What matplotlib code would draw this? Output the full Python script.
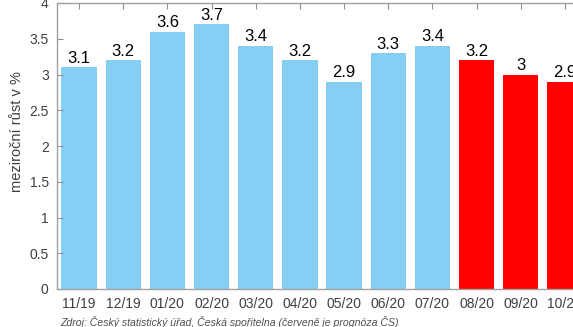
import matplotlib
matplotlib.use("Agg")
import matplotlib.pyplot as plt

plt.rcParams['font.family'] = ['Liberation Sans', 'DejaVu Sans']

months = ["11/19", "12/19", "01/20", "02/20", "03/20", "04/20", "05/20",
          "06/20", "07/20", "08/20", "09/20", "10/20"]
inflation = [3.1, 3.2, 3.6, 3.7, 3.4, 3.2, 2.9, 3.3, 3.4, 3.2, 3.0, 2.9]
is_forecast = [False] * 9 + [True] * 3
value_labels = ["3.1", "3.2", "3.6", "3.7", "3.4", "3.2", "2.9",
                "3.3", "3.4", "3.2", "3", "2.9"]
yticks = [0, 0.5, 1, 1.5, 2, 2.5, 3, 3.5, 4]
ytick_labels = ["0", "0.5", "1", "1.5", "2", "2.5", "3", "3.5", "4"]

BLUE = "#84CFF3"
RED = "#FF0000"
GRAY = "#404040"

fig = plt.figure(figsize=(5.73, 3.27), dpi=100)
ax = fig.add_axes([57 / 573, 1 - 289 / 327, 530 / 573, 286 / 327])

x = list(range(1, len(months) + 1))
colors = [RED if f else BLUE for f in is_forecast]
ax.bar(x, inflation, width=0.8, color=colors, edgecolor="none")

for xi, v, lab in zip(x, inflation, value_labels):
    ax.text(xi, v + 0.02, lab, ha="center", va="bottom", fontsize=12, color="black")

ax.set_xlim(0.5, 12.5)
ax.set_ylim(0, 4)
ax.set_xticks(x)
ax.set_xticklabels(months)
ax.set_yticks(yticks)
ax.set_yticklabels(ytick_labels)

ax.tick_params(axis="both", direction="in", colors="#909090", labelcolor=GRAY,
               labelsize=10, length=4, width=0.8)
ax.tick_params(axis="x", top=True, bottom=False, pad=6)
ax.tick_params(axis="y", right=False, pad=6)

for side in ["left", "bottom", "top"]:
    ax.spines[side].set_color("#A0A0A0")
    ax.spines[side].set_linewidth(1.0)
ax.spines["right"].set_visible(False)

ax.set_ylabel("meziroční růst v %", fontsize=10.5, color=GRAY)
ax.yaxis.set_label_coords(-0.062, 0.552)

fig.text(60 / 573, 1 - 322 / 327,
         "Zdroj: Český statistický úřad, Česká spořitelna (červeně je prognóza ČS)",
         fontsize=7.6, style="italic", color="#505050", va="center", ha="left")

fig.savefig("out.png", dpi=100)
